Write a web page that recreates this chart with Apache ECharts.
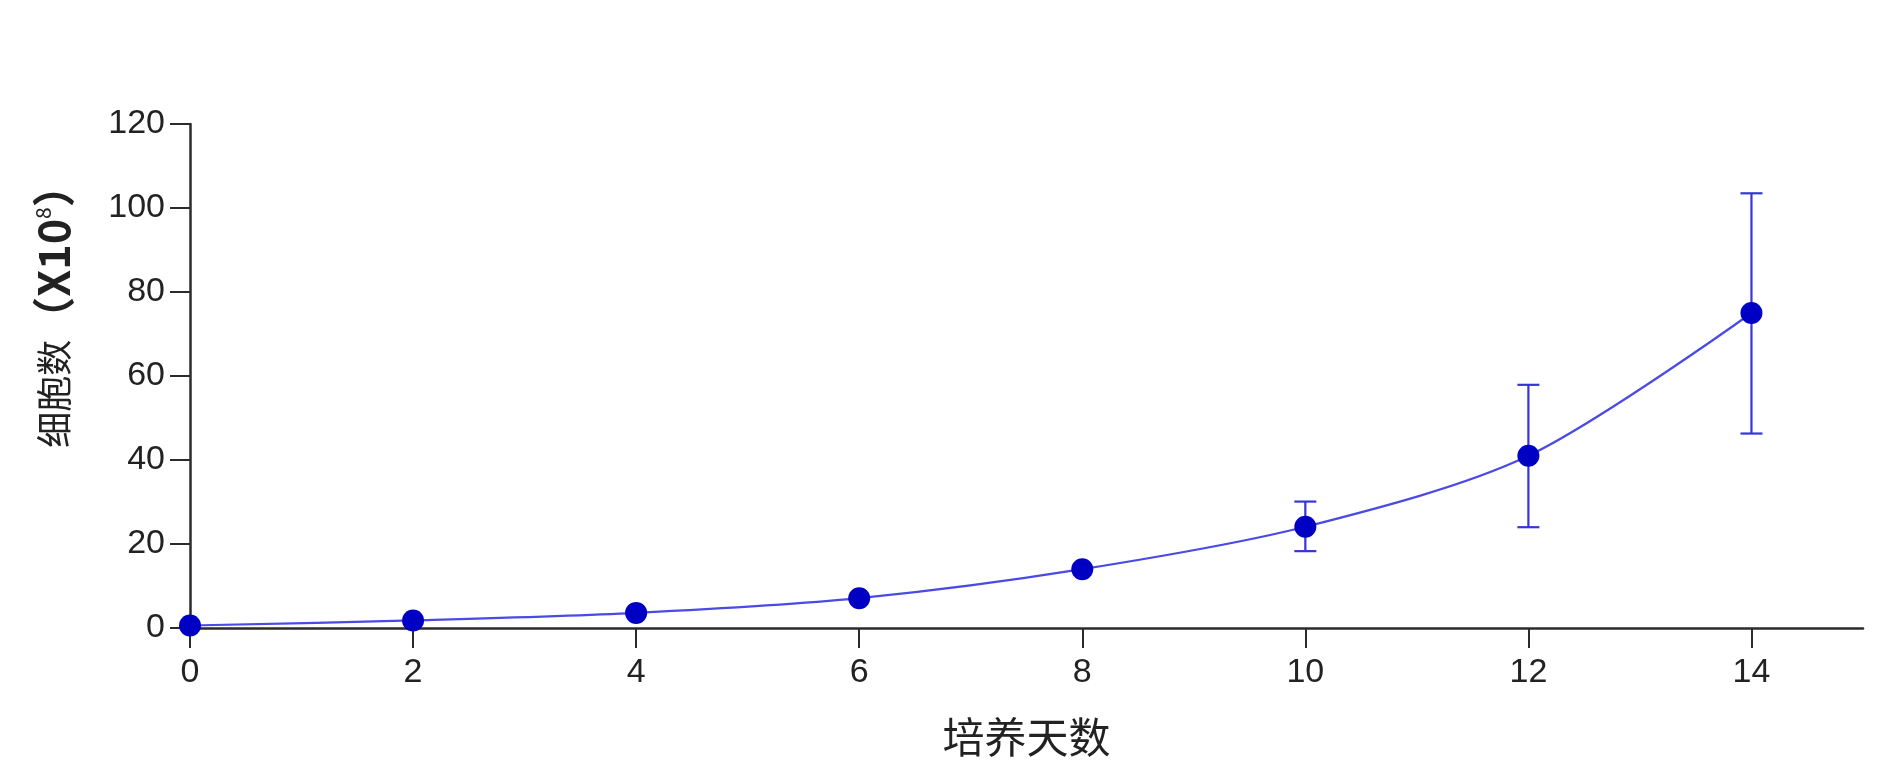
<!DOCTYPE html>
<html>
<head>
<meta charset="utf-8">
<script src="https://cdn.jsdelivr.net/npm/echarts@6/dist/echarts.min.js"></script>
<style>html,body{margin:0;padding:0;background:#fff}#c{width:1891px;height:783px}</style>
</head>
<body>
<div id="c"></div>
<script>
const days = [0, 2, 4, 6, 8, 10, 12, 14];
const cellCount = [0.6, 1.8, 3.6, 7.1, 14.0, 24.1, 41.0, 75.0];
const errLow = [0.6, 1.8, 3.6, 7.1, 14.0, 18.3, 24.0, 46.3];
const errHigh = [0.6, 1.8, 3.6, 7.1, 14.0, 30.1, 57.9, 103.5];
const xTicks = [0, 2, 4, 6, 8, 10, 12, 14];
const yTicks = [0, 20, 40, 60, 80, 100, 120];
const xTitle = '培养天数';
const yTitleMain = '细胞数';

const chart = echarts.init(document.getElementById('c'), null, {renderer: 'canvas'});
const axisStyle = {
  axisLine: {show: true, lineStyle: {color: '#2b2b2b', width: 2.5}},
  axisTick: {show: true, length: 20, lineStyle: {color: '#2b2b2b', width: 2}},
  axisLabel: {color: '#222', fontSize: 34, fontFamily: 'Liberation Sans, Arial, sans-serif'},
  splitLine: {show: false}
};
const lineData = days.map((d, i) => [d, cellCount[i]]);
const errData = days.map((d, i) => [d, errLow[i], errHigh[i]]).filter(r => r[2] - r[1] > 0.5);

chart.setOption({
  animation: false,
  backgroundColor: '#fff',
  grid: {left: 190, right: 28, top: 124, bottom: 155, containLabel: false},
  xAxis: Object.assign({
    type: 'value', min: 0, max: 15, interval: 2,
    name: xTitle, nameLocation: 'middle', nameGap: 88,
    nameTextStyle: {fontSize: 42, color: '#222', fontFamily: 'Noto Sans CJK SC'}
  }, axisStyle, {
    axisTick: Object.assign({}, axisStyle.axisTick, {customValues: xTicks}),
    axisLabel: Object.assign({}, axisStyle.axisLabel, {margin: 28, customValues: xTicks})
  }),
  yAxis: Object.assign({
    type: 'value', min: 0, max: 120, interval: 20
  }, axisStyle, {
    axisTick: Object.assign({}, axisStyle.axisTick, {customValues: yTicks}),
    axisLabel: Object.assign({}, axisStyle.axisLabel, {margin: 25, customValues: yTicks})
  }),
  graphic: [{
    type: 'text',
    x: 54, y: 306,
    rotation: Math.PI / 2,
    style: {
      text: '{a|' + yTitleMain + '}{b|（X10}{c|8}{b|）}',
      align: 'center', verticalAlign: 'middle',
      rich: {
        a: {fontSize: 36, fontFamily: 'Noto Sans CJK SC', fill: '#222'},
        b: {fontSize: 43, fontFamily: 'Noto Sans CJK SC', fontWeight: 'bold', fill: '#222'},
        c: {fontSize: 21, fontFamily: 'Noto Sans CJK SC', fill: '#222', verticalAlign: 'top', padding: [0, 0, 18, 0]}
      }
    }
  }],
  series: [{
    type: 'custom',
    z: 1,
    data: errData,
    renderItem: function (params, api) {
      const x = api.value(0);
      const lo = api.coord([x, api.value(1)]);
      const hi = api.coord([x, api.value(2)]);
      const cap = 11;
      const st = {stroke: '#3535d8', lineWidth: 2.2};
      return {type: 'group', children: [
        {type: 'line', shape: {x1: lo[0], y1: lo[1], x2: hi[0], y2: hi[1]}, style: st},
        {type: 'line', shape: {x1: lo[0] - cap, y1: lo[1], x2: lo[0] + cap, y2: lo[1]}, style: st},
        {type: 'line', shape: {x1: hi[0] - cap, y1: hi[1], x2: hi[0] + cap, y2: hi[1]}, style: st}
      ]};
    }
  }, {
    type: 'line',
    z: 3,
    data: lineData,
    smooth: 0.3,
    symbol: 'circle',
    symbolSize: 22,
    itemStyle: {color: '#0000c4'},
    lineStyle: {color: '#4a4ae4', width: 2.2}
  }]
});
</script>
</body>
</html>
